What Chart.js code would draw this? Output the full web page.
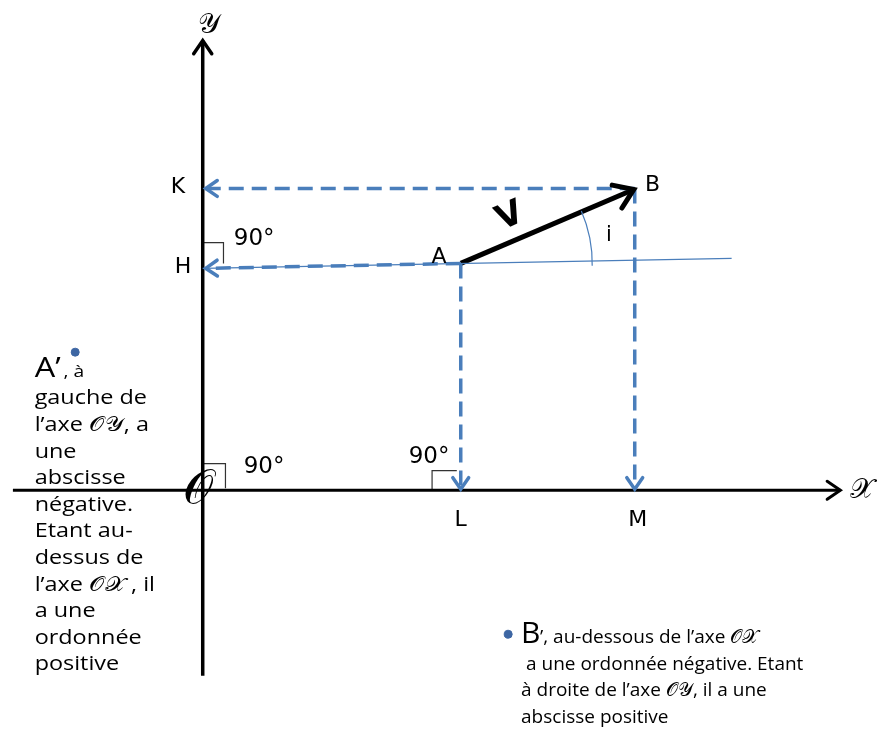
<!DOCTYPE html>
<html>
<head>
<meta charset="utf-8">
<script src="https://cdn.jsdelivr.net/npm/chart.js@4.4.1/dist/chart.umd.min.js"></script>
<style>
  html, body { margin: 0; padding: 0; background: #fff; }
  #wrap { width: 877px; height: 729px; }
</style>
</head>
<body>
<div id="wrap"><canvas id="c" width="877" height="729"></canvas></div>
<script>
// repère : origine O, unités = pixels du dessin
const pointO = { x: 0, y: 0 };
const pointA = { x: 261, y: 230 };
const pointB = { x: 437, y: 306 };
const pointL = { x: 261, y: 0 };
const pointM = { x: 437, y: 0 };
const pointH = { x: 0, y: 225 };
const pointK = { x: 0, y: 306 };

const axeX = [{ x: -192, y: 0 }, { x: 645, y: 0 }];
const axeY = [{ x: 0, y: -188 }, { x: 0, y: 456 }];
const droiteHorizA = [{ x: 0, y: 225 }, { x: 535, y: 235 }];
const projAH = [pointA, { x: 3, y: 225 }];
const projBK = [pointB, { x: 3, y: 306 }];
const projAL = [pointA, { x: 261, y: 1 }];
const projBM = [pointB, { x: 437, y: 1 }];
const vecteurV = [pointA, { x: 436, y: 305 }];

const angleDroitH = [{ x: 1, y: 251 }, { x: 21, y: 251 }, { x: 21, y: 230 }];
const angleDroitO = [{ x: 1, y: 27 }, { x: 23, y: 27 }, { x: 23, y: 2 }];
const angleDroitL = [{ x: 232, y: 0 }, { x: 232, y: 20 }, { x: 257, y: 20 }];

const pointsPrime = [{ x: -129, y: 140 }, { x: 309, y: -146 }];

const etiquettes = ['K', 'H', 'A', 'B', 'L', 'M', 'i'];
const etiqPos = [
  { x: -25, y: 307 }, { x: -20, y: 226 }, { x: 239, y: 236 }, { x: 455, y: 309 },
  { x: 261, y: -30 }, { x: 440, y: -30 }, { x: 411, y: 258 }
];
const anglesTxt = ['90°', '90°', '90°'];
const anglesPos = [{ x: 52, y: 255 }, { x: 62, y: 24 }, { x: 229, y: 34 }];

const texteGauche = [
  'gauche de', 'l’axe 𝒪𝒴, a', 'une', 'abscisse', 'négative.', 'Etant au-',
  'dessus de', 'l’axe 𝒪𝒳 , il', 'a une', 'ordonnée', 'positive'
];
const texteDroite = [
  ' a une ordonnée négative. Etant', 'à droite de l’axe 𝒪𝒴, il a une', 'abscisse positive'
];

const bleu = '#4a7ebb';
const bleuPoint = '#3d66a3';

function ligne(data, color, width, extra) {
  return Object.assign({
    type: 'line', data: data, borderColor: color, borderWidth: width,
    pointRadius: 0, fill: false, tension: 0, showLine: true
  }, extra || {});
}

const fleches = {
  id: 'fleches',
  afterDatasetsDraw(chart) {
    const ctx = chart.ctx;
    chart.data.datasets.forEach((ds, i) => {
      if (!ds.fleche) return;
      const pts = chart.getDatasetMeta(i).data;
      const p1 = pts[pts.length - 2], p2 = pts[pts.length - 1];
      const ang = Math.atan2(p2.y - p1.y, p2.x - p1.x);
      const len = ds.fleche;
      ctx.save();
      ctx.strokeStyle = ds.borderColor;
      ctx.lineWidth = ds.borderWidth;
      ctx.lineCap = 'round';
      ctx.lineJoin = 'miter';
      ctx.setLineDash([]);
      ctx.beginPath();
      ctx.moveTo(p2.x - len * Math.cos(ang - 0.6), p2.y - len * Math.sin(ang - 0.6));
      ctx.lineTo(p2.x, p2.y);
      ctx.lineTo(p2.x - len * Math.cos(ang + 0.6), p2.y - len * Math.sin(ang + 0.6));
      ctx.stroke();
      ctx.restore();
    });
  }
};

const textes = {
  id: 'textes',
  afterDraw(chart) {
    const ctx = chart.ctx;
    const sx = chart.scales.x, sy = chart.scales.y;
    const px = v => sx.getPixelForValue(v), py = v => sy.getPixelForValue(v);
    ctx.save();
    ctx.fillStyle = '#000';
    ctx.textAlign = 'center';
    ctx.textBaseline = 'middle';

    // arc de l'angle i
    const r = px(pointA.x + 133) - px(pointA.x);
    ctx.strokeStyle = bleu;
    ctx.lineWidth = 1.2;
    ctx.beginPath();
    ctx.arc(px(pointA.x), py(pointA.y), r, -23.5 * Math.PI / 180, 1 * Math.PI / 180);
    ctx.stroke();

    etiquettes.forEach((t, i) => {
      ctx.font = t === 'i' ? '21px "DejaVu Sans"' : '22px "DejaVu Sans"';
      ctx.fillText(t, px(etiqPos[i].x), py(etiqPos[i].y));
    });
    ctx.font = '23px "DejaVu Sans"';
    anglesTxt.forEach((t, i) => ctx.fillText(t, px(anglesPos[i].x), py(anglesPos[i].y)));

    // V
    ctx.save();
    ctx.translate(px(311), py(277));
    ctx.rotate(-0.42);
    ctx.font = 'bold 34px "DejaVu Sans"';
    ctx.fillText('V', 0, 0);
    ctx.restore();

    // axes en lettres de ronde
    ctx.font = '28px "DejaVu Serif", "Liberation Serif"';
    ctx.fillText('𝒳', px(667), py(0));
    ctx.fillText('𝒴', px(6), py(471));
    ctx.font = '48px "DejaVu Serif", "Liberation Serif"';
    ctx.fillText('𝒪', px(-5), py(0));

    // bloc gauche (police étirée)
    ctx.textAlign = 'left';
    ctx.textBaseline = 'alphabetic';
    ctx.save();
    ctx.translate(px(-170), 0);
    ctx.scale(1.2, 1);
    ctx.font = '27px "Open Sans"';
    ctx.fillText('A’', 0, py(115));
    ctx.font = '16px "Open Sans"';
    ctx.fillText(', à', 24, py(115));
    ctx.font = '19.5px "Open Sans"';
    texteGauche.forEach((t, i) => ctx.fillText(t, 0, py(87) + i * 26.6));
    ctx.restore();

    // bloc droite
    const xd = px(322);
    ctx.font = '30px "Open Sans"';
    ctx.fillText('B', xd, py(-155));
    ctx.font = '19px "Open Sans"';
    ctx.fillText('’, au-dessous de l’axe 𝒪𝒳', xd + 19, py(-155));
    texteDroite.forEach((t, i) => ctx.fillText(t, xd, py(-182) + i * 26.5));
    ctx.restore();
  }
};

new Chart(document.getElementById('c'), {
  type: 'scatter',
  data: {
    datasets: [
      ligne(droiteHorizA, bleu, 1.2),
      ligne(axeX, '#000', 3, { fleche: 16 }),
      ligne(axeY, '#000', 3.5, { fleche: 16 }),
      ligne(projAH, bleu, 3.5, { borderDash: [15, 8], fleche: 14 }),
      ligne(projBK, bleu, 3.5, { borderDash: [15, 8], fleche: 14 }),
      ligne(projAL, bleu, 3.5, { borderDash: [15, 8], fleche: 14 }),
      ligne(projBM, bleu, 3.5, { borderDash: [15, 8], fleche: 14 }),
      ligne(vecteurV, '#000', 5, { fleche: 22 }),
      ligne(angleDroitH, '#333', 1.2),
      ligne(angleDroitO, '#333', 1.2),
      ligne(angleDroitL, '#333', 1.2),
      { type: 'scatter', data: pointsPrime, pointRadius: 4, backgroundColor: bleuPoint, borderColor: bleuPoint, showLine: false }
    ]
  },
  options: {
    responsive: false,
    animation: false,
    layout: { padding: 0 },
    plugins: { legend: { display: false }, tooltip: { enabled: false } },
    scales: {
      x: { type: 'linear', min: -200, max: 677, display: false },
      y: { type: 'linear', min: -237, max: 492, display: false }
    }
  },
  plugins: [fleches, textes]
});
</script>
</body>
</html>
